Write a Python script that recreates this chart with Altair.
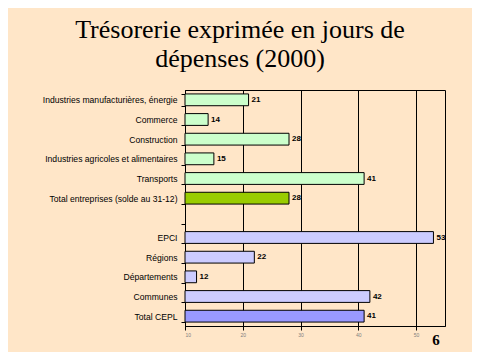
import altair as alt
import pandas as pd

categories = ["Industries manufacturières, énergie", "Commerce", "Construction",
              "Industries agricoles et alimentaires", "Transports",
              "Total entreprises (solde au 31-12)", " ", "EPCI", "Régions",
              "Départements", "Communes", "Total CEPL"]
values = [21, 14, 28, 15, 41, 28, None, 53, 22, 12, 42, 41]
groups = ["ent", "ent", "ent", "ent", "ent", "tot_ent", None, "cepl", "cepl", "cepl", "cepl", "tot_cepl"]
group_names = ["ent", "tot_ent", "cepl", "tot_cepl"]
group_colors = ["#CCFFCC", "#99CC00", "#CCCCFF", "#9999FF"]
x_ticks = [10, 15, 20, 25, 30, 35, 40, 45, 50, 55]
title_lines = ["Trésorerie exprimée en jours de", "dépenses (2000)"]
page_number = "6"

rows = [{"cat": c, "val": v, "grp": g} for c, v, g in zip(categories, values, groups) if v is not None]
df = pd.DataFrame(rows)

BG = "#FFE6C8"

y_enc = alt.Y("cat:N", sort=categories,
              scale=alt.Scale(domain=categories, paddingInner=0.4, paddingOuter=0.2),
              axis=alt.Axis(title=None, labelFont="Liberation Sans", labelFontSize=8.6,
                            labelColor="black", tickBand="extent", tickSize=4,
                            tickColor="black", domainColor="black", labelPadding=4,
                            grid=False, labelLimit=200))
x_scale = alt.Scale(domain=[10, 55], zero=False, nice=False)

base = alt.Chart(df)

bars = base.mark_bar(stroke="black", strokeWidth=1).encode(
    y=y_enc,
    x=alt.X("val:Q", scale=x_scale,
            axis=alt.Axis(values=x_ticks, title=None, grid=True, gridColor="black",
                          gridOpacity=1, gridWidth=1, labelFont="Liberation Sans",
                          labelFontSize=5, labelColor="#808080", tickSize=4,
                          tickColor="black", domainColor="black", labelPadding=2)),
    x2=alt.datum(10),
    color=alt.Color("grp:N", scale=alt.Scale(domain=group_names, range=group_colors), legend=None),
)

labels = base.mark_text(align="left", baseline="middle", dx=3, font="Liberation Sans",
                        fontSize=8, fontWeight="bold", color="black").encode(
    y=alt.Y("cat:N", sort=categories),
    x=alt.X("val:Q"),
    text=alt.Text("val:Q"),
)

page = alt.Chart(pd.DataFrame({"t": [page_number]})).mark_text(
    font="Liberation Serif", fontSize=15, fontWeight="bold", color="black",
    align="center", baseline="alphabetic").encode(
    x=alt.value(251), y=alt.value(255), text="t:N")

chart = (bars + labels + page).properties(
    width=260, height=236,
    autosize=alt.AutoSizeParams(type="none"),
    padding={"left": 177, "top": 82, "right": 27, "bottom": 26},
    background=BG,
    title=alt.TitleParams(text=title_lines, font="Liberation Serif", fontSize=26,
                          fontWeight="normal", color="black", anchor="middle",
                          dx=-75, dy=-4, offset=10, lineHeight=29),
).configure_view(stroke="black", strokeWidth=1, fill=BG)

chart.save("out.html", embed_options={"renderer": "svg", "actions": False})
